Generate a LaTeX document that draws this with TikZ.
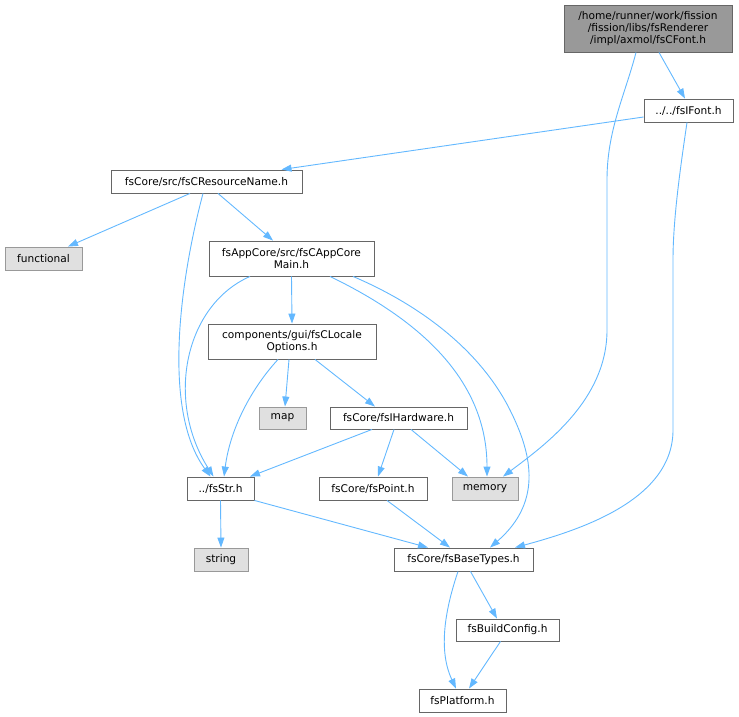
\documentclass[tikz,border=0pt]{standalone}
\usepackage{fontspec}
\setmainfont{DejaVu Sans}
\usetikzlibrary{arrows.meta}
\definecolor{edgeblue}{HTML}{63B8FF}
\definecolor{nodeborder}{HTML}{666666}
\definecolor{topfill}{HTML}{999999}
\definecolor{sysfill}{HTML}{E0E0E0}
\definecolor{sysborder}{HTML}{999999}
\tikzset{
  filebox/.style={draw=nodeborder, fill=white, line width=0.9pt, rectangle, inner sep=0pt, align=center,
    font=\fontsize{10.6}{11.8}\selectfont, text=black},
  topbox/.style={filebox, fill=topfill},
  sysbox/.style={filebox, draw=sysborder, fill=sysfill},
  edge/.style={draw=edgeblue, line width=0.9pt, -{Triangle[length=10pt,width=7pt]}, fill=none}
}
\begin{document}
\begin{tikzpicture}[x=1pt,y=-1pt]
\useasboundingbox (0,0) rectangle (739,717);
% nodes
\node[topbox, minimum width=168pt, minimum height=47pt] (cfont) at (648,28.5) {/home/runner/work/fission\\/fission/libs/fsRenderer\\/impl/axmol/fsCFont.h};
\node[filebox, minimum width=89pt, minimum height=23pt] (ifont) at (688.5,110.5) {../../fsIFont.h};
\node[filebox, minimum width=191pt, minimum height=23pt] (resname) at (206.5,181.5) {fsCore/src/fsCResourceName.h};
\node[sysbox, minimum width=77pt, minimum height=23pt] (functional) at (43.5,258.5) {functional};
\node[filebox, minimum width=165pt, minimum height=35pt] (appcore) at (291.5,258.5) {fsAppCore/src/fsCAppCore\\Main.h};
\node[filebox, minimum width=168pt, minimum height=35pt] (locale) at (292,341.5) {components/gui/fsCLocale\\Options.h};
\node[sysbox, minimum width=47pt, minimum height=22pt] (map) at (282.5,418) {map};
\node[filebox, minimum width=137pt, minimum height=22pt] (hardware) at (398.5,418) {fsCore/fsIHardware.h};
\node[filebox, minimum width=67pt, minimum height=23pt] (fsstr) at (220.5,488.5) {../fsStr.h};
\node[filebox, minimum width=108pt, minimum height=23pt] (point) at (373,488.5) {fsCore/fsPoint.h};
\node[sysbox, minimum width=66pt, minimum height=23pt] (memory) at (485,488.5) {memory};
\node[sysbox, minimum width=54pt, minimum height=23pt] (string) at (221,559.5) {string};
\node[filebox, minimum width=139pt, minimum height=23pt] (basetypes) at (463.5,559.5) {fsCore/fsBaseTypes.h};
\node[filebox, minimum width=103pt, minimum height=22pt] (buildconfig) at (507.5,630) {fsBuildConfig.h};
\node[filebox, minimum width=87pt, minimum height=23pt] (platform) at (462.5,700.5) {fsPlatform.h};
% edges
\draw[edge] ([xshift=-12pt]cfont.south) .. controls (625,95) and (607,130) .. (607,180) -- (607,330) .. controls (607,400) and (545,445) .. ([xshift=18pt]memory.north);
\draw[edge] ([xshift=11pt]cfont.south) -- ([xshift=-3.5pt]ifont.north);
\draw[edge] ([yshift=-6.5pt]ifont.west) -- ([xshift=75pt]resname.north);
\draw[edge] ([xshift=-1.5pt]ifont.south) .. controls (680,170) and (673,220) .. (673,260) -- (673,430) .. controls (673,500) and (580,530) .. ([xshift=51.5pt]basetypes.north);
\draw[edge] ([xshift=-16.5pt]resname.south) -- ([xshift=24.5pt]functional.north);
\draw[edge] ([xshift=11.5pt]resname.south) -- ([xshift=-18.5pt]appcore.north);
\draw[edge] ([xshift=-3.5pt]resname.south) .. controls (180,280) and (162,410) .. ([xshift=-10pt]fsstr.north);
\draw[edge] ([xshift=-41.5pt]appcore.south) .. controls (185,305) and (165,400) .. ([xshift=-7pt]fsstr.north);
\draw[edge] (appcore.south) -- (locale.north);
\draw[edge] ([xshift=38.5pt]appcore.south) .. controls (420,320) and (487,380) .. ([xshift=2pt]memory.north);
\draw[edge] ([xshift=61.5pt]appcore.south) .. controls (420,305) and (480,350) .. (510,410) .. controls (530,450) and (545,500) .. ([xshift=26.5pt]basetypes.north);
\draw[edge] ([xshift=-14pt]locale.south) .. controls (250,390) and (230,430) .. ([xshift=3.5pt]fsstr.north);
\draw[edge] ([xshift=-3pt]locale.south) -- ([xshift=2.5pt]map.north);
\draw[edge] ([xshift=23pt]locale.south) -- ([xshift=-23.5pt]hardware.north);
\draw[edge] ([xshift=-26.5pt]hardware.south) -- ([xshift=29.5pt]fsstr.north);
\draw[edge] ([xshift=-4.5pt]hardware.south) -- ([xshift=5pt]point.north);
\draw[edge] ([xshift=12.5pt]hardware.south) -- ([xshift=-17pt]memory.north);
\draw[edge] (fsstr.south) -- (string.north);
\draw[edge] (fsstr.south east) -- ([xshift=-35.5pt]basetypes.north);
\draw[edge] ([xshift=14pt]point.south) -- ([xshift=-13.5pt]basetypes.north);
\draw[edge] ([xshift=7pt]basetypes.south) -- ([xshift=-10.5pt]buildconfig.north);
\draw[edge] ([xshift=-5.5pt]basetypes.south) .. controls (445,610) and (438,650) .. ([xshift=-6.5pt]platform.north);
\draw[edge] ([xshift=-7pt]buildconfig.south) -- ([xshift=6.5pt]platform.north);
\end{tikzpicture}
\end{document}
